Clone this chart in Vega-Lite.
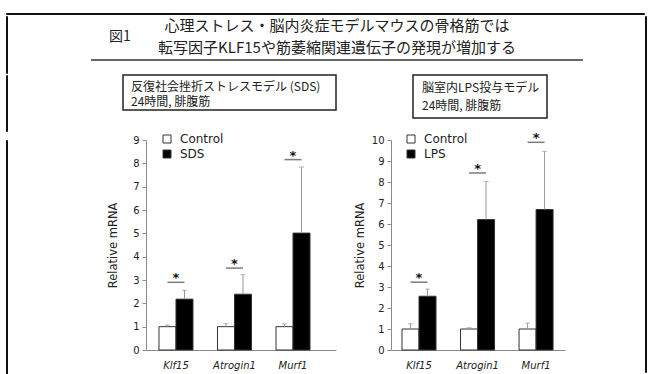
{
  "$schema": "https://vega.github.io/schema/vega-lite/v6.json",
  "background": "white",
  "padding": {"left": 5, "top": 12, "right": 0, "bottom": 0},
  "bounds": "full",
  "spacing": 0,
  "config": {
    "view": {"stroke": null},
    "font": "DejaVu Sans",
    "axis": {
      "grid": false,
      "domainColor": "#8a8a8a",
      "tickColor": "#8a8a8a",
      "labelColor": "#222222",
      "titleColor": "#222222",
      "labelFont": "DejaVu Sans",
      "titleFont": "DejaVu Sans",
      "titleFontWeight": "normal",
      "labelOverlap": false
    },
    "legend": {
      "title": null,
      "symbolType": "square",
      "symbolSize": 64,
      "symbolStrokeColor": "#333333",
      "symbolStrokeWidth": 1,
      "labelFont": "DejaVu Sans",
      "labelFontSize": 12,
      "labelColor": "#222222",
      "labelOffset": 7,
      "rowPadding": 3
    }
  },
  "vconcat": [
    {
      "width": 638,
      "height": 1,
      "view": {"stroke": "#111111", "strokeWidth": 1},
      "data": {"values": []},
      "mark": "text"
    },
    {
      "hconcat": [
        {
          "vconcat": [
            {
              "hconcat": [
                {
                  "width": 1,
                  "height": 57,
                  "view": {"stroke": "#111111", "strokeWidth": 1},
                  "data": {"values": []},
                  "mark": "text"
                },
                {
                  "width": 553,
                  "height": 44,
                  "data": {"values": [
                    {"line": "1", "text": "心理ストレス・脳内炎症モデルマウスの骨格筋では"},
                    {"line": "2", "text": "転写因子KLF15や筋萎縮関連遺伝子の発現が増加する"}
                  ]},
                  "layer": [
                    {
                      "mark": {"type": "text", "font": "Noto Sans CJK JP", "fontSize": 15, "color": "#222222", "align": "center", "baseline": "middle"},
                      "encoding": {
                        "x": {"value": 246},
                        "y": {"field": "line", "type": "ordinal", "scale": {"type": "point", "range": [10, 32], "padding": 0}, "axis": null},
                        "text": {"field": "text"}
                      }
                    },
                    {
                      "data": {"values": [{"label": "図1"}]},
                      "mark": {"type": "text", "font": "Noto Sans CJK JP", "fontSize": 14, "color": "#222222", "align": "left", "baseline": "middle"},
                      "encoding": {
                        "x": {"value": 18},
                        "y": {"value": 21},
                        "text": {"field": "label"}
                      }
                    },
                    {
                      "data": {"values": [{"label": "underline"}]},
                      "mark": {"type": "rule", "color": "#333333", "strokeWidth": 1.5},
                      "encoding": {"x": {"value": 0}, "x2": {"value": 492}, "y": {"value": 44}}
                    }
                  ]
                }
              ],
              "spacing": 82,
              "bounds": "full"
            },
            {
              "hconcat": [
                {
                  "width": 1,
                  "height": 56,
                  "view": {"stroke": "#111111", "strokeWidth": 1},
                  "data": {"values": []},
                  "mark": "text"
                },
                {
                  "hconcat": [
                    {
                      "width": 213,
                      "height": 35,
                      "view": {"stroke": "#222222", "strokeWidth": 1.5},
                      "data": {"values": [
                        {"line": "1", "text": "反復社会挫折ストレスモデル (SDS)"},
                        {"line": "2", "text": "24時間, 腓腹筋"}
                      ]},
                      "mark": {"type": "text", "font": "Noto Sans CJK JP", "fontSize": 12, "color": "#222222", "align": "left", "baseline": "middle"},
                      "encoding": {
                        "x": {"value": 8},
                        "y": {"field": "line", "type": "ordinal", "scale": {"type": "point", "range": [12, 27], "padding": 0}, "axis": null},
                        "text": {"field": "text"}
                      }
                    },
                    {
                      "width": 134,
                      "height": 43,
                      "view": {"stroke": "#222222", "strokeWidth": 1.5},
                      "data": {"values": [
                        {"line": "1", "text": "脳室内LPS投与モデル"},
                        {"line": "2", "text": "24時間, 腓腹筋"}
                      ]},
                      "mark": {"type": "text", "font": "Noto Sans CJK JP", "fontSize": 12, "color": "#222222", "align": "left", "baseline": "middle"},
                      "encoding": {
                        "x": {"value": 9},
                        "y": {"field": "line", "type": "ordinal", "scale": {"type": "point", "range": [13, 31], "padding": 0}, "axis": null},
                        "text": {"field": "text"}
                      }
                    }
                  ],
                  "spacing": 77,
                  "bounds": "flush"
                }
              ],
              "spacing": 114,
              "bounds": "full"
            },
            {
              "hconcat": [
                {
                  "width": 1,
                  "height": 241,
                  "view": {"stroke": "#111111", "strokeWidth": 1},
                  "data": {"values": []},
                  "mark": "text"
                },
                {
                  "hconcat": [
                    {
                      "width": 190,
                      "height": 210,
                      "data": {"values": [
                        {"gene": "Klf15", "group": "Control", "value": 1.0, "upper": 1.07},
                        {"gene": "Klf15", "group": "SDS", "value": 2.18, "upper": 2.56},
                        {"gene": "Atrogin1", "group": "Control", "value": 1.0, "upper": 1.13},
                        {"gene": "Atrogin1", "group": "SDS", "value": 2.39, "upper": 3.23},
                        {"gene": "Murf1", "group": "Control", "value": 1.0, "upper": 1.12},
                        {"gene": "Murf1", "group": "SDS", "value": 5.01, "upper": 7.84}
                      ]},
                      "encoding": {
                        "x": {
                          "field": "gene", "type": "nominal",
                          "scale": {"domain": ["Klf15", "Atrogin1", "Murf1"], "paddingInner": 0.419, "paddingOuter": 0.333, "align": 0.333},
                          "axis": {"title": null, "ticks": false, "tickSize": 0, "labelAngle": 0, "labelFontStyle": "italic", "labelFontSize": 10, "labelPadding": 10}
                        }
                      },
                      "layer": [
                        {
                          "mark": {"type": "bar", "stroke": "#333333", "strokeWidth": 1},
                          "encoding": {
                            "xOffset": {"field": "group", "type": "nominal", "scale": {"domain": ["Control", "SDS"], "paddingInner": 0, "paddingOuter": 0}},
                            "y": {
                              "field": "value", "type": "quantitative",
                              "scale": {"domain": [0, 9]},
                              "axis": {"values": [0, 1, 2, 3, 4, 5, 6, 7, 8, 9], "format": "d", "tickSize": 4, "labelPadding": 3, "labelFontSize": 10, "title": "Relative mRNA", "titleFontSize": 11.5, "titlePadding": 14}
                            },
                            "fill": {
                              "field": "group", "type": "nominal",
                              "scale": {"domain": ["Control", "SDS"], "range": ["#ffffff", "#000000"]},
                              "legend": {"orient": "none", "legendX": 15, "legendY": -7}
                            }
                          }
                        },
                        {
                          "mark": {"type": "rule", "color": "#999999", "strokeWidth": 1},
                          "encoding": {
                            "xOffset": {"field": "group", "type": "nominal"},
                            "y": {
                              "field": "value", "type": "quantitative",
                              "axis": {"values": [0, 1, 2, 3, 4, 5, 6, 7, 8, 9], "format": "d", "tickSize": 4, "labelPadding": 3, "labelFontSize": 10, "title": "Relative mRNA", "titleFontSize": 11.5, "titlePadding": 14}
                            },
                            "y2": {"field": "upper"}
                          }
                        },
                        {
                          "mark": {"type": "tick", "color": "#999999", "size": 5, "thickness": 1},
                          "encoding": {
                            "xOffset": {"field": "group", "type": "nominal"},
                            "y": {
                              "field": "upper", "type": "quantitative",
                              "axis": {"values": [0, 1, 2, 3, 4, 5, 6, 7, 8, 9], "format": "d", "tickSize": 4, "labelPadding": 3, "labelFontSize": 10, "title": "Relative mRNA", "titleFontSize": 11.5, "titlePadding": 14}
                            }
                          }
                        },
                        {
                          "data": {"values": [
                            {"gene": "Klf15", "sig": 2.9},
                            {"gene": "Atrogin1", "sig": 3.51},
                            {"gene": "Murf1", "sig": 8.16}
                          ]},
                          "encoding": {
                            "y": {
                              "field": "sig", "type": "quantitative",
                              "axis": {"values": [0, 1, 2, 3, 4, 5, 6, 7, 8, 9], "format": "d", "tickSize": 4, "labelPadding": 3, "labelFontSize": 10, "title": "Relative mRNA", "titleFontSize": 11.5, "titlePadding": 14}
                            }
                          },
                          "layer": [
                            {"mark": {"type": "tick", "color": "#444444", "size": 17, "thickness": 1.5}},
                            {"mark": {"type": "text", "text": "*", "fontSize": 13, "fontWeight": "bold", "color": "#111111", "baseline": "middle", "dy": -4}}
                          ]
                        }
                      ]
                    },
                    {
                      "width": 174,
                      "height": 210,
                      "data": {"values": [
                        {"gene": "Klf15", "group": "Control", "value": 1.0, "upper": 1.25},
                        {"gene": "Klf15", "group": "LPS", "value": 2.56, "upper": 2.9},
                        {"gene": "Atrogin1", "group": "Control", "value": 1.0, "upper": 1.06},
                        {"gene": "Atrogin1", "group": "LPS", "value": 6.21, "upper": 8.02},
                        {"gene": "Murf1", "group": "Control", "value": 1.0, "upper": 1.28},
                        {"gene": "Murf1", "group": "LPS", "value": 6.69, "upper": 9.46}
                      ]},
                      "encoding": {
                        "x": {
                          "field": "gene", "type": "nominal",
                          "scale": {"domain": ["Klf15", "Atrogin1", "Murf1"], "paddingInner": 0.419, "paddingOuter": 0.196, "align": 0.48},
                          "axis": {"title": null, "ticks": false, "tickSize": 0, "labelAngle": 0, "labelFontStyle": "italic", "labelFontSize": 10, "labelPadding": 10}
                        }
                      },
                      "layer": [
                        {
                          "mark": {"type": "bar", "stroke": "#333333", "strokeWidth": 1},
                          "encoding": {
                            "xOffset": {"field": "group", "type": "nominal", "scale": {"domain": ["Control", "LPS"], "paddingInner": 0, "paddingOuter": 0}},
                            "y": {
                              "field": "value", "type": "quantitative",
                              "scale": {"domain": [0, 10]},
                              "axis": {"values": [0, 1, 2, 3, 4, 5, 6, 7, 8, 9, 10], "format": "d", "tickSize": 4, "labelPadding": 3, "labelFontSize": 10, "title": "Relative mRNA", "titleFontSize": 11.5, "titlePadding": 6}
                            },
                            "fill": {
                              "field": "group", "type": "nominal",
                              "scale": {"domain": ["Control", "LPS"], "range": ["#ffffff", "#000000"]},
                              "legend": {"orient": "none", "legendX": 14, "legendY": -7}
                            }
                          }
                        },
                        {
                          "mark": {"type": "rule", "color": "#999999", "strokeWidth": 1},
                          "encoding": {
                            "xOffset": {"field": "group", "type": "nominal"},
                            "y": {
                              "field": "value", "type": "quantitative",
                              "axis": {"values": [0, 1, 2, 3, 4, 5, 6, 7, 8, 9, 10], "format": "d", "tickSize": 4, "labelPadding": 3, "labelFontSize": 10, "title": "Relative mRNA", "titleFontSize": 11.5, "titlePadding": 6}
                            },
                            "y2": {"field": "upper"}
                          }
                        },
                        {
                          "mark": {"type": "tick", "color": "#999999", "size": 5, "thickness": 1},
                          "encoding": {
                            "xOffset": {"field": "group", "type": "nominal"},
                            "y": {
                              "field": "upper", "type": "quantitative",
                              "axis": {"values": [0, 1, 2, 3, 4, 5, 6, 7, 8, 9, 10], "format": "d", "tickSize": 4, "labelPadding": 3, "labelFontSize": 10, "title": "Relative mRNA", "titleFontSize": 11.5, "titlePadding": 6}
                            }
                          }
                        },
                        {
                          "data": {"values": [
                            {"gene": "Klf15", "sig": 3.23},
                            {"gene": "Atrogin1", "sig": 8.43},
                            {"gene": "Murf1", "sig": 9.89}
                          ]},
                          "encoding": {
                            "y": {
                              "field": "sig", "type": "quantitative",
                              "axis": {"values": [0, 1, 2, 3, 4, 5, 6, 7, 8, 9, 10], "format": "d", "tickSize": 4, "labelPadding": 3, "labelFontSize": 10, "title": "Relative mRNA", "titleFontSize": 11.5, "titlePadding": 6}
                            }
                          },
                          "layer": [
                            {"mark": {"type": "tick", "color": "#444444", "size": 17, "thickness": 1.5}},
                            {"mark": {"type": "text", "text": "*", "fontSize": 13, "fontWeight": "bold", "color": "#111111", "baseline": "middle", "dy": -4}}
                          ]
                        }
                      ]
                    }
                  ],
                  "spacing": 18,
                  "bounds": "full",
                  "resolve": {"scale": {"fill": "independent", "xOffset": "independent"}, "legend": {"fill": "independent"}}
                }
              ],
              "spacing": 99,
              "bounds": "full"
            }
          ],
          "spacing": 0,
          "bounds": "full"
        },
        {
          "width": 1,
          "height": 356,
          "view": {"stroke": "#111111", "strokeWidth": 1},
          "data": {"values": []},
          "mark": "text"
        }
      ],
      "spacing": 0,
      "bounds": "full"
    }
  ]
}
